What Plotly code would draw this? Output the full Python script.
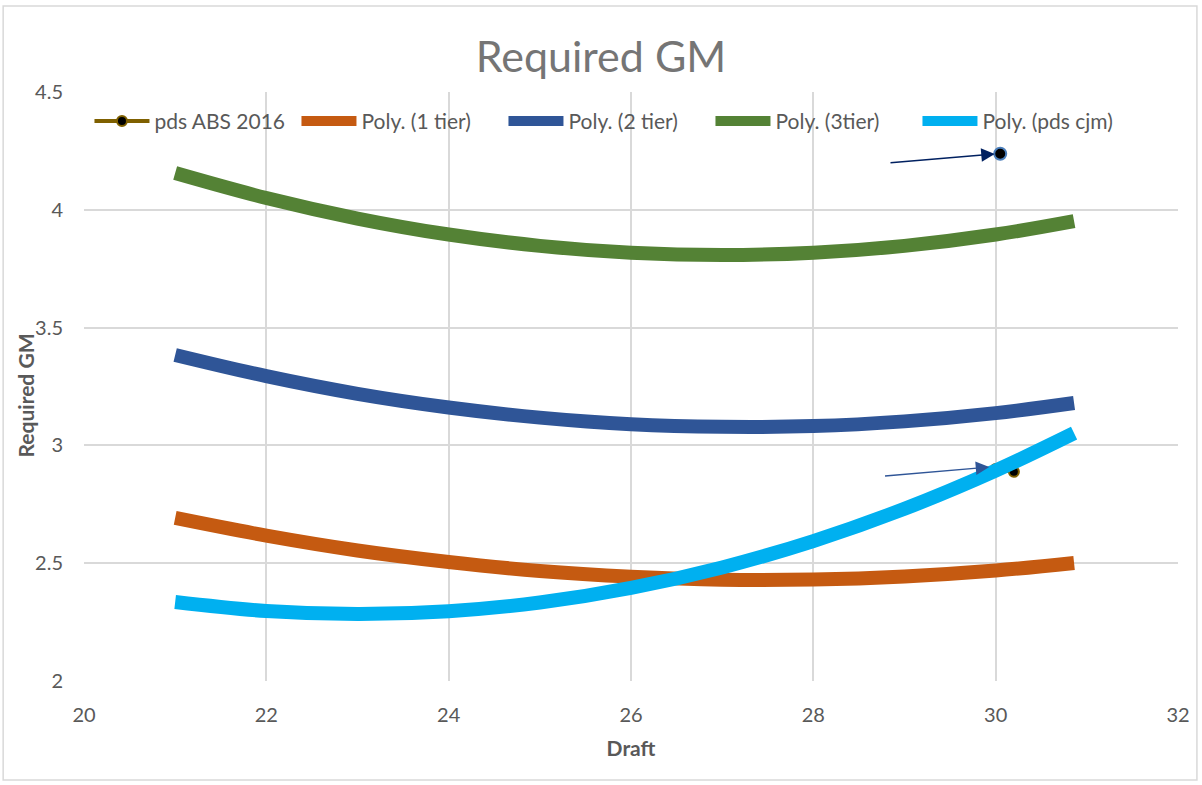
import plotly.graph_objects as go

# Draft values at which the fitted curves are sampled
draft = [21, 22, 23, 24, 25, 26, 27, 28, 29, 30, 30.86]

# Polynomial trend curves (Required GM)
gm_1tier = [2.692, 2.617, 2.554, 2.505, 2.467, 2.443, 2.430, 2.431, 2.444, 2.469, 2.501]
gm_2tier = [3.384, 3.294, 3.219, 3.161, 3.118, 3.090, 3.079, 3.082, 3.102, 3.137, 3.180]
gm_3tier = [4.156, 4.050, 3.963, 3.895, 3.847, 3.818, 3.808, 3.818, 3.847, 3.895, 3.952]
gm_cjm = [2.335, 2.297, 2.284, 2.296, 2.333, 2.395, 2.482, 2.594, 2.731, 2.893, 3.052]

# pds ABS 2016 points
abs_draft = [30.0, 30.2]
abs_gm = [2.900, 2.888]
abs3_draft = [30.05]
abs3_gm = [4.238]

x_ticks = [20, 22, 24, 26, 28, 30, 32]
y_ticks = [2, 2.5, 3, 3.5, 4, 4.5]

FONT = "Lato"
GREY = "#595959"

fig = go.Figure()

fig.add_trace(go.Scatter(
    x=abs_draft, y=abs_gm, name="pds ABS 2016", mode="lines+markers",
    line=dict(color="#7F6000", width=4),
    marker=dict(color="black", size=10, line=dict(color="#7F6000", width=2)),
))
fig.add_trace(go.Scatter(
    x=abs3_draft, y=abs3_gm, mode="markers", showlegend=False,
    marker=dict(color="black", size=12, line=dict(color="#4A7EBB", width=2)),
))

curves = [
    ("Poly. (1 tier)", gm_1tier, "#C55A11"),
    ("Poly. (2 tier)", gm_2tier, "#2F5597"),
    ("Poly. (3tier)", gm_3tier, "#548235"),
    ("Poly. (pds cjm)", gm_cjm, "#00B0F0"),
]
for name, vals, col in curves:
    fig.add_trace(go.Scatter(
        x=draft, y=vals, name=name, mode="lines",
        line=dict(color=col, width=14, shape="spline"),
    ))

# Arrows pointing at the pds ABS 2016 points
fig.add_annotation(x=29.99, y=4.237, ax=28.83, ay=4.199, xref="x", yref="y",
                   axref="x", ayref="y", text="", showarrow=True,
                   arrowhead=2, arrowsize=1.8, arrowwidth=1.5, arrowcolor="#002060")
fig.add_annotation(x=29.93, y=2.908, ax=28.77, ay=2.870, xref="x", yref="y",
                   axref="x", ayref="y", text="", showarrow=True,
                   arrowhead=2, arrowsize=1.8, arrowwidth=1.5, arrowcolor="#2F5597")

# Vertical axis title
fig.add_annotation(x=-0.0538, y=0.485, xref="paper", yref="paper",
                   xanchor="center", yanchor="middle", textangle=-90, showarrow=False,
                   text="<b>Required GM</b>", font=dict(family=FONT, size=21, color=GREY))

# Chart border
fig.add_shape(type="rect", xref="paper", yref="paper",
              x0=-0.0739, x1=1.0173, y0=-0.168, y1=1.146,
              line=dict(color="#D9D9D9", width=1.5), fillcolor="rgba(0,0,0,0)",
              layer="below")

fig.update_layout(
    width=1202, height=785,
    margin=dict(l=84, r=22, t=92, b=104),
    paper_bgcolor="white", plot_bgcolor="rgba(0,0,0,0)",
    font=dict(family=FONT, color=GREY, size=16),
    title=dict(text="Required GM", x=0.5, xanchor="center", y=0.928, yanchor="middle",
               font=dict(family=FONT, size=43, color="#757575")),
    showlegend=True,
    legend=dict(orientation="h", x=0.005, y=0.985, xanchor="left", yanchor="top",
                itemwidth=55, entrywidth=137, entrywidthmode="pixels",
                bgcolor="rgba(0,0,0,0)",
                font=dict(family=FONT, size=21, color=GREY)),
    xaxis=dict(range=[20, 32], tickvals=x_ticks, showgrid=True, gridcolor="#D9D9D9",
               gridwidth=1.5, zeroline=False, showline=False, ticks="",
               ticklabelstandoff=20, tickfont=dict(size=20, color=GREY),
               title=dict(text="<b>Draft</b>", font=dict(size=21, color=GREY), standoff=16)),
    yaxis=dict(range=[2, 4.5], tickvals=y_ticks, showgrid=True, gridcolor="#D9D9D9",
               gridwidth=1.5, zeroline=False, showline=False, ticks="",
               ticklabelstandoff=20, tickfont=dict(size=20, color=GREY)),
)

fig.write_html("out.html")
